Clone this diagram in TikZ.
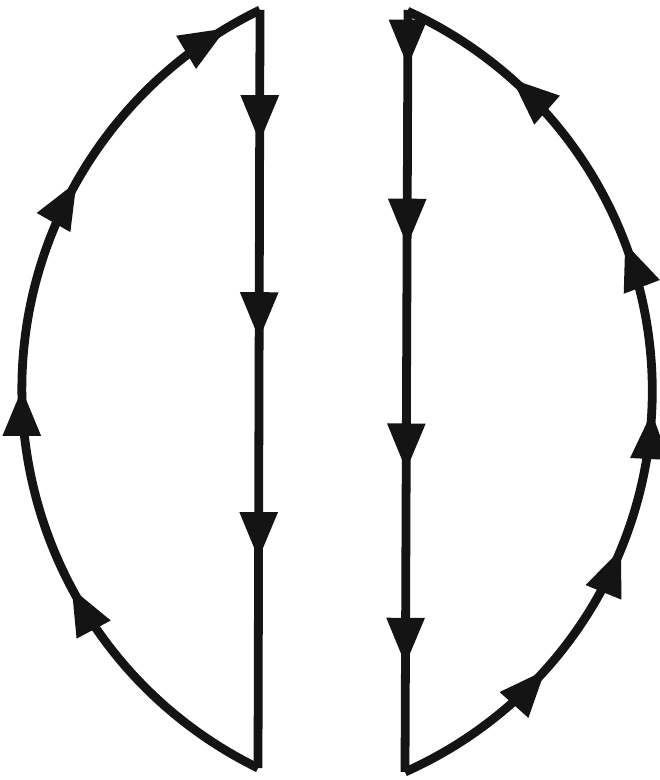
\documentclass[tikz,border=0pt]{standalone}
\usetikzlibrary{arrows.meta,decorations.markings}

\begin{document}
\begin{tikzpicture}[
    x=0.02cm, y=0.02cm,
    flow/.style={line width=5pt, black!92},
    flowtip/.tip={Triangle[length=0.95cm, width=0.72cm]},
    tipat/.style={postaction={decorate, decoration={markings,
        mark=at position #1 with {\arrow{flowtip}}}}},
  ]

  \useasboundingbox (0,0) rectangle (659,780);

  % corners of the two loops
  \coordinate (ltop) at (260,770);
  \coordinate (lbot) at (258,12);
  \coordinate (rtop) at (408,770);
  \coordinate (rbot) at (405,8);

  % -- left loop: down the chord, back up round the arc --
  \draw[flow, tipat/.list={0.175,0.435,0.725}] (ltop) -- (lbot);
  \draw[flow, tipat/.list={0.28,0.50,0.73,0.96}]
    (lbot) arc[start angle=243.9, end angle=115.8, radius=421.5];

  % -- right loop: down the chord, back up round the arc --
  \draw[flow, tipat/.list={0.075,0.31,0.605,0.86}] (rtop) -- (rbot);
  \draw[flow, tipat/.list={0.183,0.333,0.48,0.66,0.87}]
    (rbot) arc[start angle=-65.95, end angle=65.58, radius=417.2];

\end{tikzpicture}
\end{document}
